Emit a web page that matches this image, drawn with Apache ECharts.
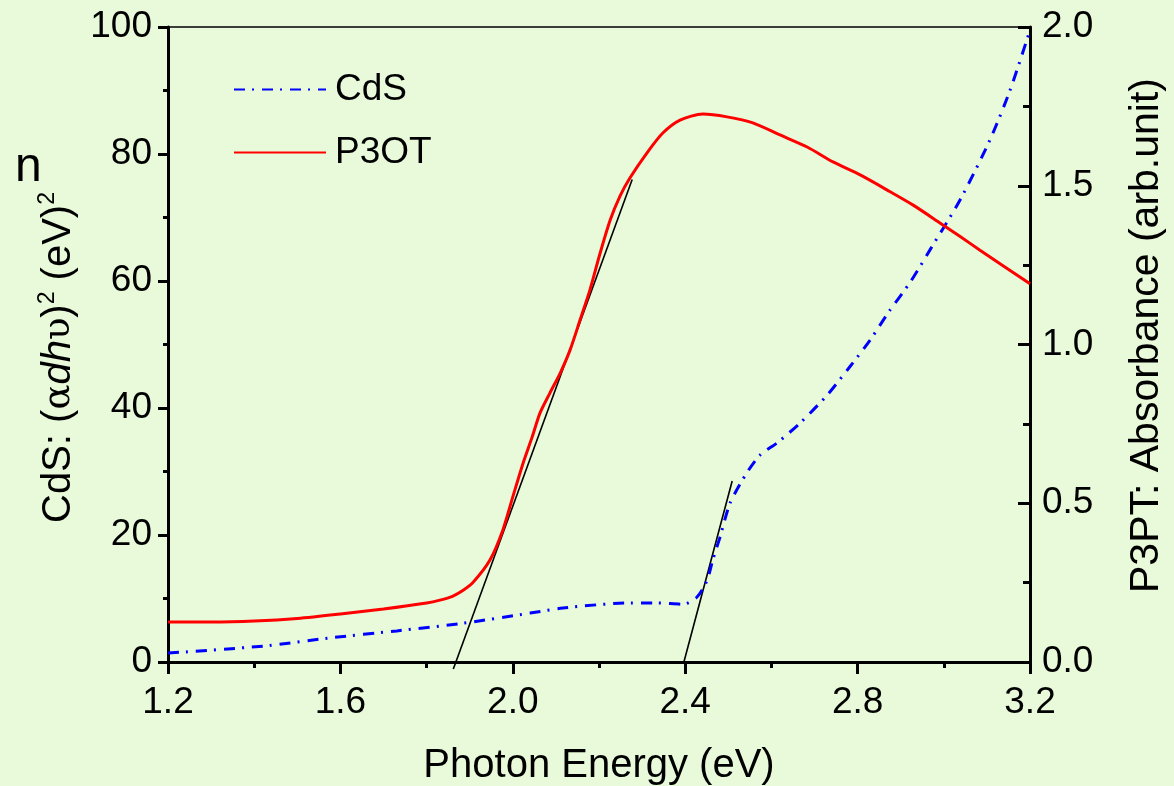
<!DOCTYPE html>
<html>
<head>
<meta charset="utf-8">
<title>CdS and P3OT absorption edges</title>
<script src="https://cdn.jsdelivr.net/npm/echarts@6/dist/echarts.min.js"></script>
<style>
  html, body { margin: 0; padding: 0; background: #e8fad9; }
  #chart { width: 1174px; height: 786px; }
</style>
</head>
<body>
<div id="chart"></div>
<script>
// Photon energy axis (eV) and its tick labels
const xTicks = [1.2, 1.6, 2.0, 2.4, 2.8, 3.2];

// P3OT absorbance (right axis, arb. unit)
const energyP3OT = [1.2, 1.3, 1.4, 1.5, 1.6, 1.7, 1.8, 1.831, 1.86, 1.884, 1.908, 1.947, 1.977, 2.0, 2.024,
  2.045, 2.063, 2.086, 2.110, 2.133, 2.156, 2.179, 2.202, 2.226, 2.249, 2.272, 2.311, 2.348, 2.388,
  2.441, 2.497, 2.557, 2.620, 2.683, 2.743, 2.806, 2.868, 2.929, 2.991, 3.038, 3.084, 3.2];
const absP3OT = [0.126, 0.126, 0.129, 0.137, 0.151, 0.167, 0.186, 0.195, 0.207, 0.225, 0.251, 0.321, 0.416, 0.520, 0.627,
  0.709, 0.784, 0.847, 0.910, 0.983, 1.077, 1.172, 1.285, 1.392, 1.468, 1.525, 1.603, 1.666, 1.707,
  1.726, 1.717, 1.698, 1.660, 1.622, 1.575, 1.534, 1.487, 1.439, 1.383, 1.340, 1.297, 1.191];

// CdS (alpha d h nu)^2 (left axis, eV^2)
const energyCdS = [1.2, 1.42, 1.576, 1.731, 1.884, 2.04, 2.116, 2.272, 2.335, 2.395, 2.427, 2.451, 2.464,
  2.481, 2.504, 2.543, 2.574, 2.613, 2.666, 2.729, 2.782, 2.829, 2.875, 2.922, 2.968, 3.038, 3.107, 3.154, 3.2];
const cdsValues = [1.4, 2.5, 3.8, 4.9, 6.1, 7.7, 8.5, 9.3, 9.3, 9.1, 10.2, 12.9, 16.1,
  19.7, 25.0, 29.8, 32.6, 34.5, 37.6, 42.0, 46.5, 50.7, 55.4, 59.8, 64.9, 72.8, 82.2, 90.1, 99.5];

// Linear extrapolations of the absorption edges (left-axis units)
const edgeP3OT = [[1.862, -1.1], [2.277, 76.0]];
const edgeCdS = [[2.397, 0], [2.509, 28.5]];

const FONT = '"Liberation Sans", Arial, sans-serif';

function zip(xs, ys) { return xs.map((x, i) => [x, ys[i]]); }

const chart = echarts.init(document.getElementById('chart'));

chart.setOption({
  backgroundColor: '#e8fad9',
  animation: false,
  grid: { left: 168, right: 144, top: 27, bottom: 124, containLabel: false, outerBoundsMode: 'none' },
  legend: {
    orient: 'vertical',
    left: 228,
    top: 66,
    itemWidth: 92,
    itemHeight: 12,
    itemGap: 26,
    data: ['CdS', 'P3OT'],
    itemStyle: { opacity: 0 },
    textStyle: { fontFamily: FONT, fontSize: 37, color: '#000', padding: [0, 0, 0, 4] }
  },
  graphic: [{
    type: 'text',
    left: 15,
    top: 144,
    style: { text: 'n', font: '48px ' + FONT, fill: '#000' }
  }],
  xAxis: [{
    type: 'value',
    min: 1.2,
    max: 3.2,
    interval: 0.4,
    position: 'bottom',
    name: 'Photon Energy (eV)',
    nameLocation: 'middle',
    nameGap: 84,
    nameTextStyle: { fontFamily: FONT, fontSize: 40, color: '#000' },
    axisLine: { onZero: false, lineStyle: { color: '#000', width: 3 } },
    axisTick: { inside: false, length: 12, lineStyle: { color: '#000', width: 3 } },
    minorTick: { show: true, splitNumber: 2, length: 6, lineStyle: { color: '#000', width: 3 } },
    splitLine: { show: false },
    axisLabel: {
      margin: 22, fontFamily: FONT, fontSize: 37, color: '#000',
      formatter: v => v.toFixed(1)
    },
    customValues: xTicks
  }, {
    type: 'value',
    min: 1.2,
    max: 3.2,
    position: 'top',
    axisLine: { onZero: false, lineStyle: { color: '#000', width: 1.5 } },
    axisTick: { show: false },
    axisLabel: { show: false },
    splitLine: { show: false }
  }],
  yAxis: [{
    type: 'value',
    min: 0,
    max: 100,
    interval: 20,
    position: 'left',
    name: 'CdS: ({g|α}{i|dh}{g|υ}){sup|2} (eV){sup|2}',
    nameLocation: 'middle',
    nameRotate: 90,
    nameGap: 75,
    nameTextStyle: {
      fontFamily: FONT, fontSize: 40, color: '#000', padding: [0, 26, 0, 0],
      rich: {
        g: { fontFamily: '"DejaVu Serif", serif', fontSize: 37, color: '#000' },
        i: { fontFamily: FONT, fontStyle: 'italic', fontSize: 40, color: '#000' },
        sup: { fontFamily: FONT, fontSize: 23, color: '#000', verticalAlign: 'top', padding: [0, 0, 24, 0] }
      }
    },
    axisLine: { onZero: false, lineStyle: { color: '#000', width: 3 } },
    axisTick: { inside: false, length: 10, lineStyle: { color: '#000', width: 3 } },
    minorTick: { show: true, splitNumber: 2, length: 5, lineStyle: { color: '#000', width: 3 } },
    splitLine: { show: false },
    axisLabel: { margin: 16, fontFamily: FONT, fontSize: 37, color: '#000' }
  }, {
    type: 'value',
    min: 0,
    max: 2,
    interval: 0.5,
    position: 'right',
    name: 'P3PT: Absorbance (arb.unit)',
    nameLocation: 'middle',
    nameRotate: 90,
    nameGap: 96,
    nameTextStyle: { fontFamily: FONT, fontSize: 41, color: '#000', padding: [0, 0, 0, 18] },
    axisLine: { onZero: false, lineStyle: { color: '#000', width: 3 } },
    axisTick: { inside: true, length: 12, lineStyle: { color: '#000', width: 3 } },
    minorTick: { show: true, splitNumber: 2, length: 7, lineStyle: { color: '#000', width: 3 } },
    splitLine: { show: false },
    axisLabel: {
      margin: 12, fontFamily: FONT, fontSize: 37, color: '#000',
      formatter: v => v.toFixed(1)
    }
  }],
  series: [{
    name: 'CdS',
    type: 'line',
    xAxisIndex: 0,
    yAxisIndex: 0,
    data: zip(energyCdS, cdsValues),
    showSymbol: false,
    symbol: 'none',
    smooth: 0.25,
    lineStyle: { color: '#0000ff', width: 3, type: [11, 7, 2, 8] },
    itemStyle: { color: '#0000ff' },
    z: 3
  }, {
    name: 'P3OT',
    type: 'line',
    xAxisIndex: 0,
    yAxisIndex: 1,
    data: zip(energyP3OT, absP3OT),
    showSymbol: false,
    symbol: 'none',
    smooth: 0.25,
    lineStyle: { color: '#ff0000', width: 3 },
    itemStyle: { color: '#ff0000' },
    z: 3
  }, {
    name: 'edge P3OT',
    type: 'line',
    xAxisIndex: 0,
    yAxisIndex: 0,
    data: edgeP3OT,
    showSymbol: false,
    symbol: 'none',
    clip: false,
    silent: true,
    lineStyle: { color: '#000', width: 1.6 },
    z: 2
  }, {
    name: 'edge CdS',
    type: 'line',
    xAxisIndex: 0,
    yAxisIndex: 0,
    data: edgeCdS,
    showSymbol: false,
    symbol: 'none',
    clip: false,
    silent: true,
    lineStyle: { color: '#000', width: 1.6 },
    z: 2
  }]
});
</script>
</body>
</html>
